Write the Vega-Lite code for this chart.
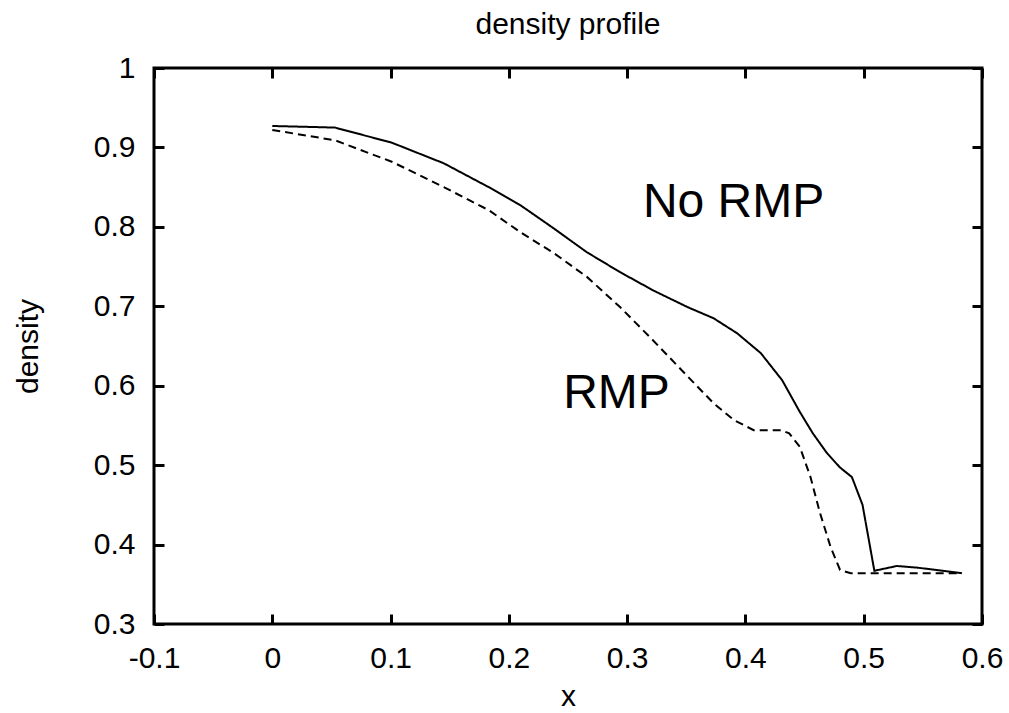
{
  "$schema": "https://vega.github.io/schema/vega-lite/v6.json",
  "autosize": {"type": "none"},
  "width": 828,
  "height": 556,
  "padding": {"left": 154, "top": 68, "right": 27, "bottom": 89},
  "background": "white",
  "config": {
    "font": "Liberation Sans",
    "view": {"stroke": "black", "strokeWidth": 3},
    "axis": {
      "domain": false,
      "grid": false,
      "ticks": true,
      "tickColor": "black",
      "tickWidth": 3,
      "tickSize": -10,
      "labelFont": "Liberation Sans",
      "labelFontSize": 30,
      "labelColor": "black",
      "titleFont": "Liberation Sans",
      "titleFontSize": 30,
      "titleFontWeight": "normal",
      "titleColor": "black"
    }
  },
  "title": {
    "text": "density profile",
    "fontSize": 30,
    "fontWeight": "normal",
    "font": "Liberation Sans",
    "color": "black",
    "anchor": "middle",
    "offset": 13
  },
  "resolve": {"axis": {"x": "independent", "y": "independent"}},
  "layer": [
    {
      "data": {
        "values": [
          {"series": "No RMP", "x": 0.0, "density": 0.927},
          {"series": "No RMP", "x": 0.053, "density": 0.925},
          {"series": "No RMP", "x": 0.101, "density": 0.906},
          {"series": "No RMP", "x": 0.145, "density": 0.880},
          {"series": "No RMP", "x": 0.183, "density": 0.850},
          {"series": "No RMP", "x": 0.210, "density": 0.827},
          {"series": "No RMP", "x": 0.238, "density": 0.798},
          {"series": "No RMP", "x": 0.266, "density": 0.768},
          {"series": "No RMP", "x": 0.294, "density": 0.743},
          {"series": "No RMP", "x": 0.322, "density": 0.720},
          {"series": "No RMP", "x": 0.351, "density": 0.699},
          {"series": "No RMP", "x": 0.373, "density": 0.685},
          {"series": "No RMP", "x": 0.393, "density": 0.666},
          {"series": "No RMP", "x": 0.413, "density": 0.641},
          {"series": "No RMP", "x": 0.431, "density": 0.607},
          {"series": "No RMP", "x": 0.446, "density": 0.567},
          {"series": "No RMP", "x": 0.457, "density": 0.540},
          {"series": "No RMP", "x": 0.469, "density": 0.515},
          {"series": "No RMP", "x": 0.480, "density": 0.497},
          {"series": "No RMP", "x": 0.490, "density": 0.485},
          {"series": "No RMP", "x": 0.499, "density": 0.450},
          {"series": "No RMP", "x": 0.509, "density": 0.367},
          {"series": "No RMP", "x": 0.528, "density": 0.373},
          {"series": "No RMP", "x": 0.545, "density": 0.371},
          {"series": "No RMP", "x": 0.583, "density": 0.364},
          {"series": "RMP", "x": 0.0, "density": 0.922},
          {"series": "RMP", "x": 0.053, "density": 0.909},
          {"series": "RMP", "x": 0.101, "density": 0.882},
          {"series": "RMP", "x": 0.145, "density": 0.850},
          {"series": "RMP", "x": 0.183, "density": 0.821},
          {"series": "RMP", "x": 0.210, "density": 0.793},
          {"series": "RMP", "x": 0.238, "density": 0.767},
          {"series": "RMP", "x": 0.266, "density": 0.737},
          {"series": "RMP", "x": 0.294, "density": 0.699},
          {"series": "RMP", "x": 0.322, "density": 0.657},
          {"series": "RMP", "x": 0.351, "density": 0.612},
          {"series": "RMP", "x": 0.373, "density": 0.578},
          {"series": "RMP", "x": 0.390, "density": 0.557},
          {"series": "RMP", "x": 0.407, "density": 0.544},
          {"series": "RMP", "x": 0.430, "density": 0.544},
          {"series": "RMP", "x": 0.437, "density": 0.540},
          {"series": "RMP", "x": 0.446, "density": 0.523},
          {"series": "RMP", "x": 0.455, "density": 0.485},
          {"series": "RMP", "x": 0.463, "density": 0.440},
          {"series": "RMP", "x": 0.472, "density": 0.397},
          {"series": "RMP", "x": 0.480, "density": 0.368},
          {"series": "RMP", "x": 0.489, "density": 0.364},
          {"series": "RMP", "x": 0.583, "density": 0.364}
        ]
      },
      "mark": {"type": "line", "color": "black", "strokeWidth": 2, "clip": true},
      "encoding": {
        "x": {
          "field": "x", "type": "quantitative",
          "scale": {"domain": [-0.1, 0.6], "nice": false, "zero": false},
          "axis": {
            "orient": "bottom",
            "title": "x",
            "values": [-0.1, 0, 0.1, 0.2, 0.3, 0.4, 0.5, 0.6],
            "labelExpr": "'' + round(datum.value*10)/10",
            "labelPadding": 29,
            "titlePadding": 8,
            "labelFlush": false
          }
        },
        "y": {
          "field": "density", "type": "quantitative",
          "scale": {"domain": [0.3, 1], "nice": false, "zero": false},
          "axis": {
            "orient": "left",
            "title": "density",
            "values": [0.3, 0.4, 0.5, 0.6, 0.7, 0.8, 0.9, 1],
            "labelExpr": "'' + round(datum.value*10)/10",
            "labelPadding": 29,
            "titlePadding": 50,
            "labelFlush": false
          }
        },
        "strokeDash": {
          "field": "series", "type": "nominal",
          "scale": {"domain": ["No RMP", "RMP"], "range": [[1, 0], [8, 5]]},
          "legend": null
        }
      }
    },
    {
      "data": {
        "values": [
          {"label": "No RMP", "x": 0.390, "density": 0.812},
          {"label": "RMP", "x": 0.291, "density": 0.572}
        ]
      },
      "mark": {"type": "text", "fontSize": 48, "color": "black", "align": "center", "baseline": "alphabetic", "font": "Liberation Sans"},
      "encoding": {
        "x": {
          "field": "x", "type": "quantitative",
          "axis": {
            "orient": "top", "title": null, "labels": false,
            "values": [-0.1, 0, 0.1, 0.2, 0.3, 0.4, 0.5, 0.6]
          }
        },
        "y": {
          "field": "density", "type": "quantitative",
          "axis": {
            "orient": "right", "title": null, "labels": false,
            "values": [0.3, 0.4, 0.5, 0.6, 0.7, 0.8, 0.9, 1]
          }
        },
        "text": {"field": "label", "type": "nominal"}
      }
    }
  ]
}
